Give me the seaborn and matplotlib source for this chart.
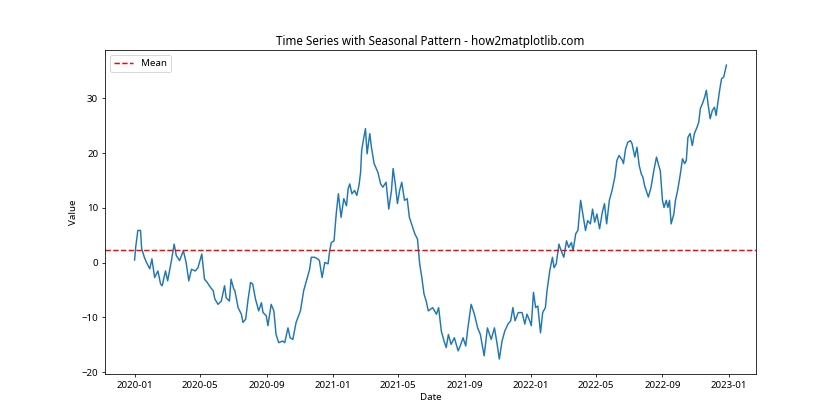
import pandas as pd
import matplotlib
matplotlib.use("Agg")
import matplotlib.pyplot as plt
import seaborn as sns

# values (day offset from 2020-01-01, value)
start_date = "2020-01-01"
day_offsets = [
    0, 2, 6, 11, 13, 18, 22, 28, 32, 37, 43, 48, 51, 57, 61, 68, 73, 77, 83, 90,
    95, 100, 105, 112, 117, 124, 129, 134, 140, 145, 148, 154, 160, 166, 169, 175,
    178, 183, 185, 191, 197, 200, 205, 209, 214, 218, 223, 229, 234, 237, 243, 246,
    252, 257, 261, 266, 273, 277, 283, 287, 292, 298, 306, 312, 318, 323, 326, 332,
    338, 341, 346, 351, 357, 360, 363, 368, 372, 376, 381, 386, 391, 394, 397, 401,
    406, 410, 414, 417, 419, 423, 426, 429, 434, 437, 442, 446, 449, 454, 458, 464,
    469, 474, 477, 481, 485, 489, 493, 498, 503, 507, 512, 517, 522, 526, 530, 534,
    538, 542, 550, 557, 561, 566, 571, 575, 579, 584, 590, 597, 602, 606, 611, 615,
    621, 627, 633, 638, 645, 651, 658, 664, 669, 673, 678, 683, 689, 694, 698, 702,
    708, 715, 720, 724, 729, 732, 736, 740, 744, 749, 753, 758, 761, 766, 771, 774,
    778, 783, 787, 792, 797, 801, 806, 809, 814, 818, 823, 827, 832, 836, 841, 845,
    849, 853, 858, 863, 867, 871, 876, 881, 886, 890, 894, 900, 902, 906, 910, 915,
    918, 923, 927, 931, 935, 938, 941, 944, 948, 953, 958, 963, 967, 970, 974, 977,
    981, 984, 987, 990, 995, 998, 1002, 1007, 1011, 1015, 1018, 1021, 1025, 1029,
    1033, 1038, 1041, 1044, 1048, 1052, 1055, 1058, 1062, 1066, 1070, 1073, 1076,
    1079, 1083, 1087, 1092,
]
values = [
    0.5, 2.8, 5.9, 5.9, 2.6, 1.0, 0.05, -1.1, 0.7, -2.7, -1.5, -3.9, -4.2, -1.5, -3.3,
    0.4, 3.4, 1.3, 0.4, 2.2, 0.1, -3.3, -1.2, -1.5, -0.9, 1.6, -3.0, -3.6, -4.5, -5.1,
    -6.6, -7.6, -7.0, -4.2, -6.4, -7.0, -3.0, -4.8, -5.1, -8.2, -9.4, -10.9, -10.3,
    -7.0, -3.6, -3.9, -6.6, -8.8, -7.3, -9.1, -9.7, -11.5, -7.6, -8.8, -13.1, -14.6,
    -14.3, -14.6, -11.9, -13.7, -14.0, -10.9, -8.8, -5.1, -3.0, -1.2, 1.0, 1.0, 0.7,
    0.4, -2.7, 0.05, -0.2, 2.2, 3.7, 4.0, 8.9, 12.6, 8.3, 11.7, 10.4, 13.5, 14.4, 12.6,
    13.2, 12.3, 14.1, 16.5, 20.5, 22.9, 24.5, 19.9, 23.6, 21.1, 18.1, 17.2, 16.5, 14.4,
    13.8, 14.7, 9.8, 13.2, 17.2, 14.4, 10.8, 13.2, 14.7, 11.4, 11.7, 8.3, 6.8, 5.3,
    4.3, -0.2, -2.7, -5.7, -7.0, -8.8, -8.2, -9.4, -8.2, -12.5, -14.3, -15.5, -13.1,
    -14.9, -13.7, -16.1, -14.9, -13.7, -15.2, -11.9, -7.6, -9.4, -11.9, -13.1, -17.0,
    -11.9, -14.0, -11.9, -14.9, -17.6, -14.3, -12.5, -11.2, -10.6, -8.2, -10.6, -9.1,
    -9.1, -11.2, -9.4, -10.6, -11.5, -5.4, -8.2, -7.9, -12.8, -9.1, -8.2, -5.1, -1.5,
    1.0, -0.9, -0.2, 3.4, 2.2, 1.0, 4.0, 2.8, 3.7, 2.2, 5.3, 5.9, 11.4, 8.9, 5.9, 7.7,
    7.1, 9.8, 7.4, 8.9, 6.2, 9.2, 10.8, 7.1, 11.4, 13.2, 15.6, 18.7, 19.6, 18.7, 18.1,
    20.8, 22.0, 22.3, 21.7, 19.3, 21.1, 17.8, 16.2, 15.6, 14.1, 13.2, 12.0, 13.8, 16.8,
    19.3, 17.8, 16.8, 11.4, 10.1, 11.4, 10.1, 11.4, 7.1, 8.9, 11.4, 13.2, 16.2, 19.0,
    18.1, 18.7, 22.9, 23.6, 21.4, 23.6, 24.8, 25.7, 28.2, 29.1, 30.3, 31.5, 29.1, 26.3,
    27.8, 28.4, 26.9, 29.1, 31.2, 33.6, 33.9, 36.1,
]
mean_value = 2.4

df = pd.DataFrame({
    "Date": pd.Timestamp(start_date) + pd.to_timedelta(day_offsets, unit="D"),
    "Value": values,
})

plt.rcParams["font.family"] = ["Noto Sans", "DejaVu Sans"]

fig, ax = plt.subplots(figsize=(12, 6), dpi=70)
sns.lineplot(data=df, x="Date", y="Value", ax=ax, color="#1f77b4", linewidth=1.5)
ax.axhline(mean_value, color="red", linestyle="--", label="Mean")
ax.set_title("Time Series with Seasonal Pattern - how2matplotlib.com")
ax.set_xlabel("Date")
ax.set_ylabel("Value")
ax.legend(loc="upper left")
# default matplotlib subplot box, as in the reference
fig.subplots_adjust(left=0.125, right=0.9, top=0.88, bottom=0.11)
fig.savefig("out.png", dpi=70)
